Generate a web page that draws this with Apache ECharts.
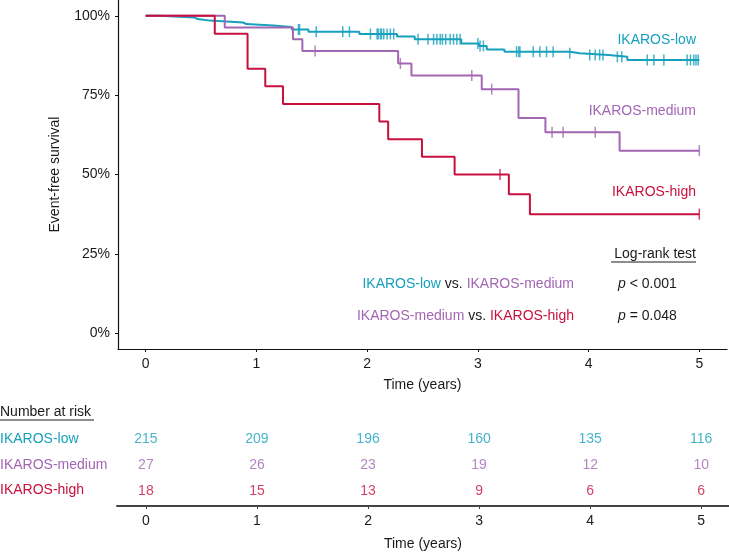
<!DOCTYPE html>
<html><head><meta charset="utf-8">
<script src="https://cdn.jsdelivr.net/npm/echarts@6/dist/echarts.min.js"></script>
<style>html,body{margin:0;padding:0;background:#fff}#c{width:729px;height:555px}</style>
</head><body><div id="c"></div>
<script>
// ---- data ----
const lowT  = [0,0.12,0.44,0.47,0.58,0.88,0.91,1.15,1.32,1.47,1.93,2.27,2.43,2.85,3.01,3.08,3.24,3.83,3.92,4.18,4.35,5];
const lowS  = [1,0.995,0.990,0.985,0.979,0.974,0.970,0.965,0.957,0.950,0.943,0.935,0.926,0.913,0.905,0.894,0.887,0.882,0.877,0.871,0.861,0.861];
const lowCens = [1.38,1.39,1.54,1.78,1.84,2.03,2.09,2.10,2.12,2.13,2.15,2.18,2.21,2.24,2.46,2.55,2.60,2.63,2.66,2.68,2.71,2.75,2.78,2.81,2.84,3.00,3.02,3.05,3.35,3.37,3.38,3.50,3.56,3.62,3.68,3.83,4.01,4.06,4.10,4.13,4.26,4.30,4.53,4.59,4.68,4.89,4.92,4.95,4.97,4.99];
const medT  = [0,0.714,1.33,1.415,2.28,2.40,3.035,3.367,3.61,4.28,5];
const medS  = [1,0.963,0.926,0.889,0.850,0.812,0.769,0.678,0.633,0.575,0.575];
const medCens = [1.53,2.30,2.945,3.125,3.67,3.77,4.06,5.0];
const highT = [0,0.624,0.92,1.08,1.24,2.11,2.19,2.495,2.79,3.28,3.47,5];
const highS = [1,0.944,0.833,0.778,0.722,0.667,0.611,0.556,0.500,0.438,0.375,0.375];
const highCens = [3.20,5.0];
const groups = ['IKAROS-low','IKAROS-medium','IKAROS-high'];
const riskTimes = [0,1,2,3,4,5];
const riskLow = [215,209,196,160,135,116];
const riskMed = [27,26,23,19,12,10];
const riskHigh = [18,15,13,9,6,6];
const xTicks = [0,1,2,3,4,5];
const yTicks = [0,0.25,0.5,0.75,1];

// ---- styles ----
const C = {low:'#17a0bd', med:'#a366b3', high:'#c8103e'};
const FONT = "'Liberation Sans', Arial, Helvetica, sans-serif";
const TXT = '#1a1a1a';

function levelAt(T,S,t){let s=S[0];for(let i=0;i<T.length;i++){if(T[i]<=t)s=S[i];}return s;}
function line(T,S){return T.map((t,i)=>[t,S[i]]);}
function cens(T,S,C){return C.map(t=>[t,levelAt(T,S,t)]);}

const chart = echarts.init(document.getElementById('c'),null,{renderer:'canvas'});
const lineSeries = (name,T,S,col)=>({type:'line',name,step:'end',data:line(T,S),showSymbol:false,symbol:'none',
  lineStyle:{color:col,width:2},xAxisIndex:0,yAxisIndex:0,animation:false,z:3});
const censSeries = (T,S,Cn,col)=>({type:'scatter',data:cens(T,S,Cn),symbol:'rect',symbolSize:[1.5,11],
  itemStyle:{color:col},xAxisIndex:0,yAxisIndex:0,animation:false,z:4});
const riskSeries = (vals,row,col)=>({type:'scatter',data:riskTimes.map((t,i)=>[t,row,vals[i]]),symbolSize:1,
  itemStyle:{color:'rgba(0,0,0,0)'},xAxisIndex:1,yAxisIndex:1,animation:false,
  label:{show:true,position:'inside',formatter:p=>p.value[2],color:col,fontSize:14,fontFamily:FONT}});

const option = {
  backgroundColor:'#fff',
  animation:false,
  textStyle:{fontFamily:FONT},
  grid:[{left:118,right:2,top:0,bottom:206},{left:117,right:0,top:414,bottom:49}],
  xAxis:[
    {type:'value',gridIndex:0,min:-0.25,max:5.25,
     name:'Time (years)',nameLocation:'middle',nameGap:29,nameTextStyle:{fontSize:14,color:TXT,fontFamily:FONT},
     axisLine:{show:true,onZero:false,lineStyle:{color:'#111',width:1.2}},
     axisTick:{show:true,length:3,customValues:xTicks,lineStyle:{color:'#111'}},
     axisLabel:{customValues:xTicks,fontSize:14,color:TXT,margin:8,fontFamily:FONT},
     splitLine:{show:false}},
    {type:'value',gridIndex:1,min:-0.26,max:5.25,
     name:'Time (years)',nameLocation:'middle',nameGap:31,nameTextStyle:{fontSize:14,color:TXT,fontFamily:FONT},
     axisLine:{show:true,onZero:false,lineStyle:{color:'#444',width:2}},
     axisTick:{show:true,length:3,customValues:xTicks,lineStyle:{color:'#444'}},
     axisLabel:{customValues:xTicks,fontSize:14,color:TXT,margin:8,fontFamily:FONT},
     splitLine:{show:false}}
  ],
  yAxis:[
    {type:'value',gridIndex:0,min:-0.05,max:1.05,
     name:'Event-free survival',nameLocation:'middle',nameGap:56,nameTextStyle:{fontSize:14,color:TXT,fontFamily:FONT},
     axisLine:{show:true,onZero:false,lineStyle:{color:'#111',width:1.2}},
     axisTick:{show:true,length:3,customValues:yTicks,lineStyle:{color:'#111'}},
     axisLabel:{customValues:yTicks,fontSize:14,color:TXT,margin:8,fontFamily:FONT,formatter:v=>Math.round(v*100)+'%'},
     splitLine:{show:false}},
    {type:'value',gridIndex:1,min:0.4,max:4,show:false}
  ],
  series:[
    lineSeries(groups[0],lowT,lowS,C.low),
    lineSeries(groups[1],medT,medS,C.med),
    lineSeries(groups[2],highT,highS,C.high),
    censSeries(lowT,lowS,lowCens,C.low),
    censSeries(medT,medS,medCens,C.med),
    censSeries(highT,highS,highCens,C.high),
    riskSeries(riskLow,3,C.low),
    riskSeries(riskMed,2,C.med),
    riskSeries(riskHigh,1,C.high)
  ],
  graphic:[
    {type:'text',x:696,y:40,style:{text:groups[0],fill:C.low,font:'14px '+FONT,textAlign:'right',textVerticalAlign:'middle'}},
    {type:'text',x:696,y:111,style:{text:groups[1],fill:C.med,font:'14px '+FONT,textAlign:'right',textVerticalAlign:'middle'}},
    {type:'text',x:696,y:192,style:{text:groups[2],fill:C.high,font:'14px '+FONT,textAlign:'right',textVerticalAlign:'middle'}},
    {type:'text',x:696,y:254,style:{text:'Log-rank test',fill:TXT,font:'14px '+FONT,textAlign:'right',textVerticalAlign:'middle'}},
    {type:'line',shape:{x1:611,y1:262,x2:696,y2:262},style:{stroke:TXT,lineWidth:1}},
    {type:'text',x:574,y:284,style:{text:'{a|'+groups[0]+'}{k| vs. }{b|'+groups[1]+'}',font:'14px '+FONT,textAlign:'right',textVerticalAlign:'middle',
      rich:{a:{fill:C.low,fontSize:14,fontFamily:FONT},k:{fill:TXT,fontSize:14,fontFamily:FONT},b:{fill:C.med,fontSize:14,fontFamily:FONT}}}},
    {type:'text',x:574,y:316,style:{text:'{a|'+groups[1]+'}{k| vs. }{b|'+groups[2]+'}',font:'14px '+FONT,textAlign:'right',textVerticalAlign:'middle',
      rich:{a:{fill:C.med,fontSize:14,fontFamily:FONT},k:{fill:TXT,fontSize:14,fontFamily:FONT},b:{fill:C.high,fontSize:14,fontFamily:FONT}}}},
    {type:'text',x:618,y:284,style:{text:'{i|p} < 0.001',fill:TXT,font:'14px '+FONT,textAlign:'left',textVerticalAlign:'middle',
      rich:{i:{fontStyle:'italic',fontSize:14,fontFamily:FONT,fill:TXT}}}},
    {type:'text',x:618,y:316,style:{text:'{i|p} = 0.048',fill:TXT,font:'14px '+FONT,textAlign:'left',textVerticalAlign:'middle',
      rich:{i:{fontStyle:'italic',fontSize:14,fontFamily:FONT,fill:TXT}}}},
    {type:'text',x:0,y:412,style:{text:'Number at risk',fill:TXT,font:'14px '+FONT,textAlign:'left',textVerticalAlign:'middle'}},
    {type:'line',shape:{x1:0,y1:420,x2:94,y2:420},style:{stroke:TXT,lineWidth:1}},
    {type:'text',x:0,y:439,style:{text:groups[0],fill:C.low,font:'14px '+FONT,textAlign:'left',textVerticalAlign:'middle'}},
    {type:'text',x:0,y:465,style:{text:groups[1],fill:C.med,font:'14px '+FONT,textAlign:'left',textVerticalAlign:'middle'}},
    {type:'text',x:0,y:490,style:{text:groups[2],fill:C.high,font:'14px '+FONT,textAlign:'left',textVerticalAlign:'middle'}}
  ]
};
chart.setOption(option);
</script></body></html>
